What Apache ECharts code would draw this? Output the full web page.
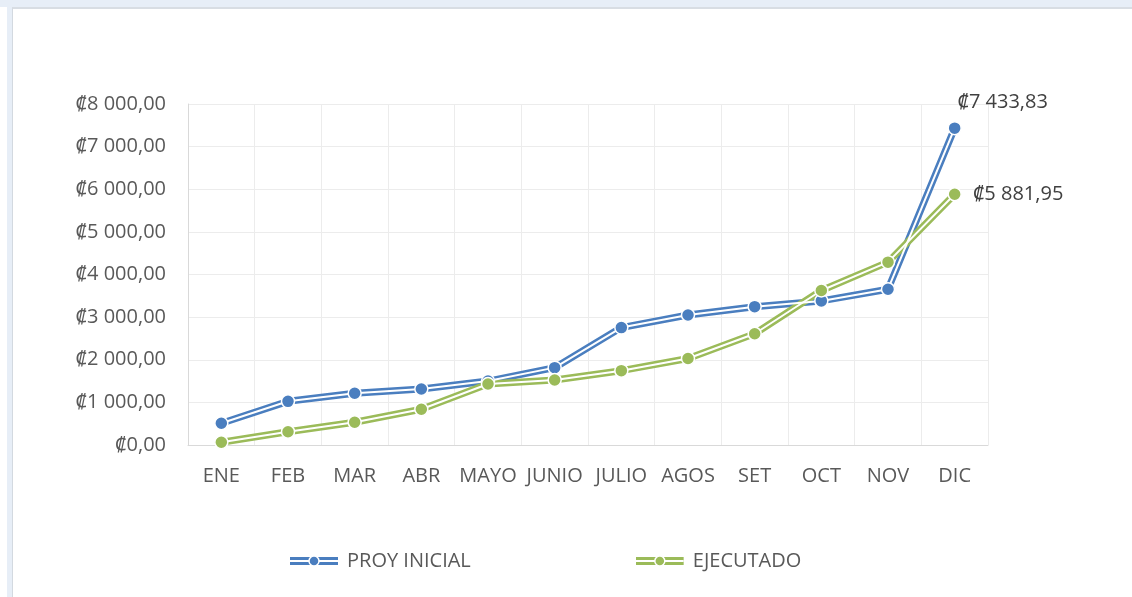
<!DOCTYPE html>
<html>
<head>
<meta charset="utf-8">
<script src="https://cdn.jsdelivr.net/npm/echarts@6/dist/echarts.min.js"></script>
<style>
  html, body { margin: 0; padding: 0; background: #fff; }
  #topband { position: absolute; left: 0; top: 0; width: 1132px; height: 7px; background: #e7eef7; }
  #leftband { position: absolute; left: 7px; top: 0; width: 5px; height: 597px; background: #e7eef7; }
  #frame { position: absolute; left: 12px; top: 7px; width: 1120px; height: 588px;
           border-left: 1px solid #d3d9e0; border-top: 2px solid #d8dde3; border-bottom: 1px solid #e3e3e3; }
  #main { position: absolute; left: 0; top: 0; width: 1132px; height: 597px; }
</style>
</head>
<body>
<div id="topband"></div>
<div id="leftband"></div>
<div id="frame"></div>
<div id="main"></div>
<script>
// datos mensuales
var meses = ['ENE', 'FEB', 'MAR', 'ABR', 'MAYO', 'JUNIO', 'JULIO', 'AGOS', 'SET', 'OCT', 'NOV', 'DIC'];
var proyInicial = [510, 1025, 1215, 1315, 1500, 1815, 2755, 3050, 3245, 3380, 3655, 7433.83];
var ejecutado = [65, 312, 533, 838, 1430, 1526, 1744, 2030, 2610, 3625, 4290, 5881.95];

var azul = '#4a7ebf';
var verde = '#9bbb59';
var fuente = '"Open Sans", "Noto Sans", sans-serif';
var tam = 20;

function colones(v, dec) {
    var partes = Number(v).toFixed(2).split('.');
    var ent = partes[0].replace(/\B(?=(\d{3})+(?!\d))/g, ' ');
    return '\u20A1' + ent + ',' + (dec ? partes[1] : '00');
}

function icono(color) {
    var svg = "<svg xmlns='http://www.w3.org/2000/svg' width='48' height='12'>" +
        "<rect x='0' y='2' width='48' height='8' fill='" + color + "'/>" +
        "<rect x='0' y='5' width='48' height='2' fill='#ffffff'/>" +
        "<circle cx='24' cy='6' r='5' fill='" + color + "' stroke='#ffffff' stroke-width='1.5'/></svg>";
    return 'image://data:image/svg+xml;charset=utf-8,' + encodeURIComponent(svg);
}

// linea doble: linea ancha de color + linea blanca fina + puntos
function serieDoble(nombre, datos, color, etiqueta) {
    return [{
        name: nombre, type: 'line', data: datos, symbol: 'none',
        lineStyle: { color: color, width: 7 }, itemStyle: { color: color },
        z: 2, animation: false
    }, {
        name: nombre, type: 'line', data: datos, symbol: 'none',
        lineStyle: { color: '#ffffff', width: 2 }, itemStyle: { color: color },
        z: 3, animation: false
    }, {
        name: nombre, type: 'line', data: datos,
        symbol: 'circle', symbolSize: 13, showAllSymbol: true,
        lineStyle: { width: 0, opacity: 0 },
        itemStyle: { color: color, borderColor: '#ffffff', borderWidth: 1.5 },
        label: {
            show: true,
            color: '#404040', fontSize: tam, fontFamily: fuente,
            position: etiqueta.pos, offset: etiqueta.off, align: etiqueta.align,
            formatter: function (p) {
                return p.dataIndex === datos.length - 1 ? colones(p.value, true) : '';
            }
        },
        z: 4, animation: false
    }];
}

var chart = echarts.init(document.getElementById('main'));

var option = {
    backgroundColor: 'transparent',
    textStyle: { fontFamily: fuente },
    grid: { left: 188, right: 144, top: 104, bottom: 152 },
    legend: {
        left: 285, top: 546,
        itemWidth: 48, itemHeight: 12, itemGap: 165,
        textStyle: { color: '#595959', fontSize: tam, fontFamily: fuente, padding: [0, 0, 0, 4] },
        data: [
            { name: 'PROY INICIAL', icon: icono(azul) },
            { name: 'EJECUTADO', icon: icono(verde) }
        ]
    },
    xAxis: {
        type: 'category',
        data: meses,
        boundaryGap: true,
        axisLine: { lineStyle: { color: '#d9d9d9' } },
        axisTick: { show: false },
        axisLabel: { color: '#595959', fontSize: tam, fontFamily: fuente, margin: 21, interval: 0 },
        splitLine: { show: true, lineStyle: { color: '#ececec' } }
    },
    yAxis: {
        type: 'value',
        min: 0, max: 8000, interval: 1000,
        axisLine: { show: true, lineStyle: { color: '#d9d9d9' } },
        axisTick: { show: false },
        axisLabel: {
            color: '#595959', fontSize: tam, fontFamily: fuente, margin: 22,
            formatter: function (v) { return colones(v, false); }
        },
        splitLine: { lineStyle: { color: '#ececec' } }
    },
    series: [].concat(
        serieDoble('PROY INICIAL', proyInicial, azul, { pos: 'top', off: [48, -4], align: 'center' }),
        serieDoble('EJECUTADO', ejecutado, verde, { pos: 'right', off: [6, 0], align: 'left' })
    )
};

chart.setOption(option);
</script>
</body>
</html>
